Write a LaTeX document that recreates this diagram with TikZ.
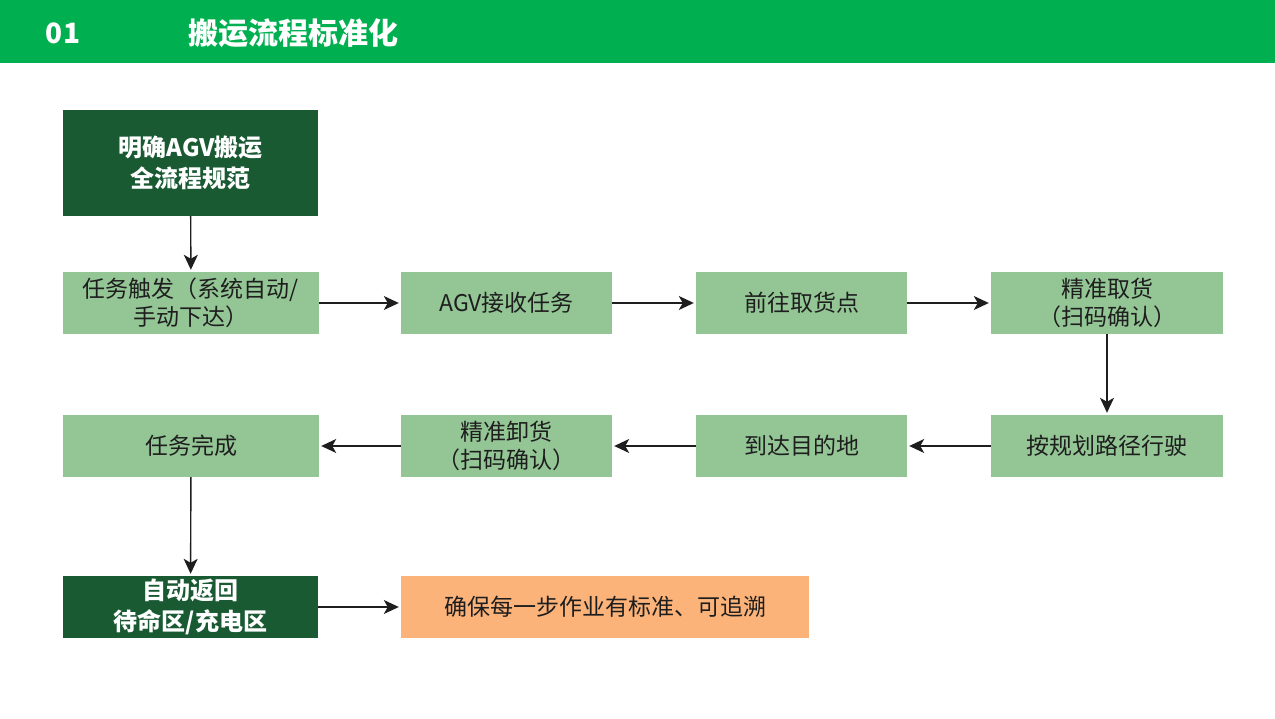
\documentclass[tikz,border=0pt]{standalone}
\usepackage{fontspec}
\setmainfont{Noto Sans CJK SC}
\usetikzlibrary{arrows.meta}
\definecolor{hdr}{HTML}{00B050}
\definecolor{dk}{HTML}{195A33}
\definecolor{lt}{HTML}{93C595}
\definecolor{org}{HTML}{FBB37A}
\definecolor{ln}{HTML}{1E1E1E}
\tikzset{
  x=1pt,y=-1pt,
  box/.style={draw=none,minimum height=62pt,inner sep=0pt,align=center,font=\fontsize{23}{28}\selectfont,text=ln},
  lbox/.style={box,fill=lt},
  dbox/.style={box,fill=dk,text=white,font=\bfseries\fontsize{24}{31}\selectfont},
  obox/.style={box,fill=org},
  arr/.style={draw=ln,line width=1.4pt,shorten >=2pt,-{Stealth[length=15pt,width=14pt,inset=4pt]}}
}
\begin{document}
\begin{tikzpicture}
\useasboundingbox (0,0) rectangle (1275,719);
\fill[white] (0,0) rectangle (1275,719);
\fill[hdr] (0,0) rectangle (1275,63);
\node[text=white,font=\bfseries\fontsize{28}{30}\selectfont,anchor=center] (num) at (63,33) {01};
\node[text=white,font=\bfseries\fontsize{30}{32}\selectfont,anchor=west,inner sep=0pt] (ttl) at (188,33) {搬运流程标准化};
% top
\node[dbox,minimum width=255pt,minimum height=106pt] (a) at (190.5,163) {明确AGV搬运\\全流程规范};
% row 1
\node[lbox,minimum width=256pt] (b1) at (191,303) {任务触发（系统自动/\\手动下达）};
\node[lbox,minimum width=211pt] (b2) at (506.5,303) {AGV接收任务};
\node[lbox,minimum width=211pt] (b3) at (801.5,303) {前往取货点};
\node[lbox,minimum width=232pt] (b4) at (1107,303) {精准取货\\（扫码确认）};
% row 2
\node[lbox,minimum width=232pt] (c4) at (1107,446) {按规划路径行驶};
\node[lbox,minimum width=211pt] (c3) at (801.5,446) {到达目的地};
\node[lbox,minimum width=211pt] (c2) at (506.5,446) {精准卸货\\（扫码确认）};
\node[lbox,minimum width=256pt] (c1) at (191,446) {任务完成};
% bottom
\node[dbox,minimum width=255pt] (d) at (190.5,607) {自动返回\\待命区/充电区};
\node[obox,minimum width=408pt] (e) at (605,607) {确保每一步作业有标准、可追溯};
% arrows
\draw[arr] (a) -- (b1);
\draw[arr] (b1) -- (b2);
\draw[arr] (b2) -- (b3);
\draw[arr] (b3) -- (b4);
\draw[arr] (b4) -- (c4);
\draw[arr] (c4) -- (c3);
\draw[arr] (c3) -- (c2);
\draw[arr] (c2) -- (c1);
\draw[arr] (c1) -- (d);
\draw[arr] (d) -- (e);
\end{tikzpicture}
\end{document}
